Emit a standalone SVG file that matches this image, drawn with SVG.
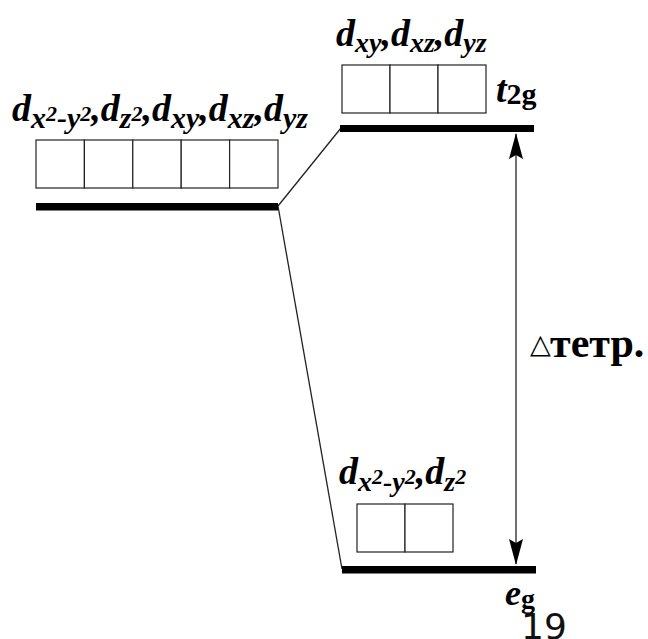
<svg xmlns="http://www.w3.org/2000/svg" width="648" height="639" viewBox="0 0 648 639">
<defs>
<style>
.m{font-family:"Liberation Serif","Times New Roman",serif;font-weight:bold;font-style:italic;font-size:38px;fill:#000}
.s{font-size:30px}
.s2{font-size:28px}
.p{font-size:22px}
.box{fill:#fff;stroke:#222;stroke-width:1.2}
.bar{fill:#000}
.ln{stroke:#222;stroke-width:1.3;fill:none}
.up{font-family:"Liberation Serif","Times New Roman",serif;font-weight:bold;font-style:normal;fill:#000}
</style>
<marker id="ah" viewBox="0 0 26 14" refX="25" refY="7" markerWidth="26" markerHeight="14" markerUnits="userSpaceOnUse" orient="auto-start-reverse">
<path d="M0,0 L26,7 L0,14 L4,7 Z" fill="#000"/>
</marker>
</defs>
<rect width="648" height="639" fill="#fff"/>
<g id="connectors">
<line class="ln" x1="278" y1="206" x2="341" y2="128"/>
<line class="ln" x1="278" y1="206" x2="342" y2="569"/>
<line class="ln" x1="516" y1="134" x2="516" y2="564" marker-start="url(#ah)" marker-end="url(#ah)"/>
</g>
<g id="free">
<rect class="box" x="36" y="140" width="48.4" height="48"/>
<rect class="box" x="84.4" y="140" width="48.4" height="48"/>
<rect class="box" x="132.8" y="140" width="48.4" height="48"/>
<rect class="box" x="181.2" y="140" width="48.4" height="48"/>
<rect class="box" x="229.6" y="140" width="48.4" height="48"/>
<rect class="bar" x="36" y="203" width="242" height="7.5"/>
<text class="m" x="12" y="121">d<tspan class="s" y="128">x</tspan><tspan class="p" y="121">2</tspan><tspan class="s" y="128">-y</tspan><tspan class="p" y="121">2</tspan><tspan y="121">,d</tspan><tspan class="s" y="128">z</tspan><tspan class="p" y="121">2</tspan><tspan y="121">,d</tspan><tspan class="s" y="128">xy</tspan><tspan y="121">,d</tspan><tspan class="s" y="128">xz</tspan><tspan y="121">,d</tspan><tspan class="s" y="128">yz</tspan></text>
</g>
<g id="t2g">
<rect class="box" x="342" y="65" width="48" height="48"/>
<rect class="box" x="390" y="65" width="48" height="48"/>
<rect class="box" x="438" y="65" width="48" height="48"/>
<rect class="bar" x="340" y="125" width="194" height="7"/>
<text class="m" x="336" y="46">d<tspan class="s2" y="52">xy</tspan><tspan y="46">,d</tspan><tspan class="s2" y="52">xz</tspan><tspan y="46">,d</tspan><tspan class="s2" y="52">yz</tspan></text>
<text class="m" x="496" y="102">t<tspan class="up" style="font-size:30px" y="104">2g</tspan></text>
</g>
<g id="eg">
<rect class="box" x="357" y="504" width="48" height="48"/>
<rect class="box" x="405" y="504" width="48" height="48"/>
<rect class="bar" x="342" y="566" width="194" height="7.5"/>
<text class="m" x="339" y="484">d<tspan class="s2" y="491">x</tspan><tspan class="p" y="484">2</tspan><tspan class="s2" y="491">-y</tspan><tspan class="p" y="484">2</tspan><tspan y="484">,d</tspan><tspan class="s2" y="491">z</tspan><tspan class="p" y="484">2</tspan></text>
<text class="m" x="505" y="605" style="font-size:36px">e<tspan class="up" style="font-size:28px" y="608">g</tspan></text>
</g>
<g id="delta">
<text x="530" y="353" style="font-family:'DejaVu Sans',sans-serif;font-size:27px;fill:#000">△</text>
<text class="up" x="550" y="357" style="font-size:42px">тетр.</text>
</g>
<text x="521" y="639" style="font-family:'DejaVu Sans',sans-serif;font-size:36px;fill:#111">19</text>
</svg>
